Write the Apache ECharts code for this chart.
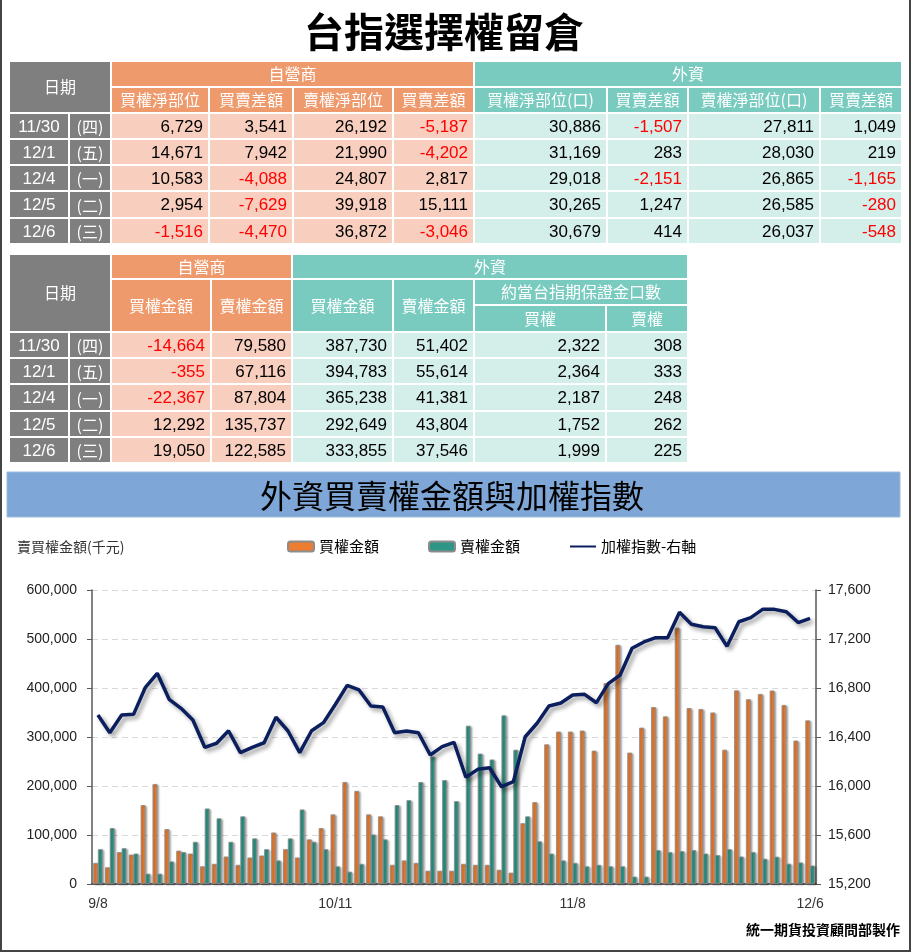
<!DOCTYPE html>
<html><head><meta charset="utf-8">
<script src="https://cdn.jsdelivr.net/npm/echarts@6/dist/echarts.min.js"></script>
<style>html,body{margin:0;padding:0;background:#fff}#c{width:912px;height:952px}</style>
</head><body><div id="c"></div>
<script>
// ---------- chart data ----------
const categories = ['9/8','9/11','9/12','9/13','9/14','9/15','9/18','9/19','9/20','9/21','9/22','9/25','9/26','9/27','9/28',
  '10/2','10/3','10/4','10/5','10/6','10/11','10/12','10/13','10/16','10/17','10/18','10/19','10/20','10/23','10/24','10/25','10/26','10/27','10/30','10/31',
  '11/1','11/2','11/3','11/6','11/7','11/8','11/9','11/10','11/13','11/14','11/15','11/16','11/17','11/20','11/21','11/22','11/23','11/24','11/27','11/28','11/29','11/30',
  '12/1','12/4','12/5','12/6'];
const buyAmount = [43000,34000,65000,60000,161000,204000,112000,68000,62000,36000,
  41000,56000,39000,54000,58000,105000,71000,54000,91000,114000,
  142000,208000,190000,142000,138000,39000,48000,43000,27000,27000,
  27000,41000,39000,39000,29000,23000,124000,167000,285000,311000,
  311000,313000,272000,410000,488000,268000,319000,361000,342000,523000,
  359000,357000,350000,274000,395000,377000,387730,394783,365238,292649,333855];
const sellAmount = [71000,114000,73000,62000,21000,21000,46000,65000,86000,154000,
  134000,86000,138000,93000,71000,48000,93000,152000,86000,71000,
  36000,25000,41000,101000,91000,161000,171000,208000,260000,212000,
  169000,323000,266000,254000,344000,274000,138000,87000,62000,48000,
  43000,36000,39000,36000,36000,15000,15000,69000,65000,67000,
  69000,62000,59000,71000,56000,65000,51402,55614,41381,43804,37546];
const taiex = [16580,16435,16580,16585,16806,16920,16708,16634,16539,16316,
  16349,16451,16272,16316,16353,16561,16451,16272,16451,16517,
  16665,16822,16784,16653,16645,16435,16449,16435,16253,16321,
  16357,16071,16136,16149,15994,16035,16402,16512,16653,16677,
  16743,16748,16680,16836,16906,17124,17176,17211,17211,17418,
  17320,17300,17292,17140,17341,17374,17442,17442,17423,17334,17369];

// ---------- table data ----------
const tblDates = ['11/30','12/1','12/4','12/5','12/6'];
const tblDays = ['(四)','(五)','(一)','(二)','(三)'];
const propBuyNet = [6729,14671,10583,2954,-1516];
const propBuyDiff = [3541,7942,-4088,-7629,-4470];
const propSellNet = [26192,21990,24807,39918,36872];
const propSellDiff = [-5187,-4202,2817,15111,-3046];
const forBuyNet = [30886,31169,29018,30265,30679];
const forBuyDiff = [-1507,283,-2151,1247,414];
const forSellNet = [27811,28030,26865,26585,26037];
const forSellDiff = [1049,219,-1165,-280,-548];
const propBuyAmt = [-14664,-355,-22367,12292,19050];
const propSellAmt = [79580,67116,87804,135737,122585];
const forBuyAmt = [387730,394783,365238,292649,333855];
const forSellAmt = [51402,55614,41381,43804,37546];
const eqFutBuy = [2322,2364,2187,1752,1999];
const eqFutSell = [308,333,248,262,225];
const head1 = ['買權淨部位','買賣差額','賣權淨部位','買賣差額','買權淨部位(口)','買賣差額','賣權淨部位(口)','買賣差額'];

// ---------- drawing helpers ----------
const CJK = '"Noto Sans CJK TC","Noto Sans CJK SC",sans-serif';
const NUM = '"Liberation Sans Narrow","Liberation Sans",Arial,sans-serif';
const COL = {gray:'#7F7F7F', orH:'#EE9A6D', orD:'#F8CEBE', tlH:'#79CBBF', tlD:'#D4EEEA'};
const G = [];
function rect(x0,y0,x1,y1,fill){
  G.push({type:'rect',silent:true,shape:{x:x0,y:y0,width:x1-x0,height:y1-y0},style:{fill:fill,stroke:'#fff',lineWidth:2}});
}
function txt(x,y,s,font,color,align){
  G.push({type:'text',silent:true,x:x,y:y,style:{text:s,font:font,fill:color||'#000',
    textAlign:align||'center',textVerticalAlign:'middle',align:align||'center',verticalAlign:'middle'}});
}
const fmt = v => v.toLocaleString('en-US');
function numCell(x0,y0,x1,y1,fill,v){
  rect(x0,y0,x1,y1,fill);
  txt(x1-6,(y0+y1)/2+1,fmt(v),'17px '+NUM, v<0?'#FF0000':'#000','right');
}
function dateCells(c0,c1,c2,y0,y1,j){
  rect(c0,y0,c1,y1,COL.gray); txt((c0+c1)/2,(y0+y1)/2+1,tblDates[j],'17px '+NUM,'#fff');
  rect(c1,y0,c2,y1,COL.gray); txt((c1+c2)/2,(y0+y1)/2+1,tblDays[j],'16px '+CJK,'#fff');
}

// main title
txt(444,32,'台指選擇權留倉','bold 40px '+CJK,'#000');

// table 1
const c1 = [9,69,111,209,293,393,474,607,688,820,902];
const r1 = [61,87,113,139,165,191,218,244];
rect(c1[0],r1[0],c1[2],r1[2],COL.gray); txt((c1[0]+c1[2])/2,(r1[0]+r1[2])/2,'日期','16px '+CJK,'#fff');
rect(c1[2],r1[0],c1[6],r1[1],COL.orH); txt((c1[2]+c1[6])/2,(r1[0]+r1[1])/2,'自營商','16px '+CJK,'#fff');
rect(c1[6],r1[0],c1[10],r1[1],COL.tlH); txt((c1[6]+c1[10])/2,(r1[0]+r1[1])/2,'外資','16px '+CJK,'#fff');
head1.forEach((h,i)=>{ rect(c1[2+i],r1[1],c1[3+i],r1[2],i<4?COL.orH:COL.tlH);
  txt((c1[2+i]+c1[3+i])/2,(r1[1]+r1[2])/2,h,'16px '+CJK,'#fff'); });
const t1Cols = [propBuyNet,propBuyDiff,propSellNet,propSellDiff,forBuyNet,forBuyDiff,forSellNet,forSellDiff];
for(let j=0;j<5;j++){
  const y0=r1[2+j], y1=r1[3+j];
  dateCells(c1[0],c1[1],c1[2],y0,y1,j);
  t1Cols.forEach((arr,i)=>numCell(c1[2+i],y0,c1[3+i],y1,i<4?COL.orD:COL.tlD,arr[j]));
}

// table 2
const c2 = [9,69,111,211,292,393,474,606,688];
const r2 = [254,279,305,332,358,384,411,437,463];
rect(c2[0],r2[0],c2[2],r2[3],COL.gray); txt((c2[0]+c2[2])/2,(r2[0]+r2[3])/2,'日期','16px '+CJK,'#fff');
rect(c2[2],r2[0],c2[4],r2[1],COL.orH); txt((c2[2]+c2[4])/2,(r2[0]+r2[1])/2,'自營商','16px '+CJK,'#fff');
rect(c2[4],r2[0],c2[8],r2[1],COL.tlH); txt((c2[4]+c2[8])/2,(r2[0]+r2[1])/2,'外資','16px '+CJK,'#fff');
[['買權金額',2,COL.orH],['賣權金額',3,COL.orH],['買權金額',4,COL.tlH],['賣權金額',5,COL.tlH]].forEach(a=>{
  rect(c2[a[1]],r2[1],c2[a[1]+1],r2[3],a[2]); txt((c2[a[1]]+c2[a[1]+1])/2,(r2[1]+r2[3])/2,a[0],'16px '+CJK,'#fff'); });
rect(c2[6],r2[1],c2[8],r2[2],COL.tlH); txt((c2[6]+c2[8])/2,(r2[1]+r2[2])/2,'約當台指期保證金口數','16px '+CJK,'#fff');
rect(c2[6],r2[2],c2[7],r2[3],COL.tlH); txt((c2[6]+c2[7])/2,(r2[2]+r2[3])/2,'買權','16px '+CJK,'#fff');
rect(c2[7],r2[2],c2[8],r2[3],COL.tlH); txt((c2[7]+c2[8])/2,(r2[2]+r2[3])/2,'賣權','16px '+CJK,'#fff');
const t2Cols = [propBuyAmt,propSellAmt,forBuyAmt,forSellAmt,eqFutBuy,eqFutSell];
for(let j=0;j<5;j++){
  const y0=r2[3+j], y1=r2[4+j];
  dateCells(c2[0],c2[1],c2[2],y0,y1,j);
  t2Cols.forEach((arr,i)=>numCell(c2[2+i],y0,c2[3+i],y1,i<2?COL.orD:COL.tlD,arr[j]));
}

// chart banner
G.push({type:'rect',silent:true,shape:{x:7,y:472,width:893,height:45},style:{fill:'#7EA6D6',stroke:'#9DBBE0',lineWidth:1}});
txt(452,496,'外資買賣權金額與加權指數','32px '+CJK,'#000');
txt(17,547,'賣買權金額(千元)','14px '+CJK,'#333','left');
txt(900,930,'統一期貨投資顧問部製作','bold 14px '+CJK,'#000','right');
// frame
G.push({type:'polyline',silent:true,shape:{points:[[1,0],[1,951],[910,951],[910,0]]},style:{fill:null,stroke:'#444',lineWidth:2}});

const chart = echarts.init(document.getElementById('c'),null,{renderer:'canvas'});
const shadowBar = {shadowColor:'rgba(0,0,0,0.35)',shadowBlur:2,shadowOffsetX:1.5,shadowOffsetY:1,borderColor:'#8C8C8C',borderWidth:0.8};
chart.setOption({
  animation:false,
  backgroundColor:'#fff',
  graphic:{elements:G},
  legend:{left:282,top:534,itemWidth:26,itemHeight:10,itemGap:49,
    textStyle:{fontSize:15,color:'#000',fontFamily:CJK},
    data:['買權金額','賣權金額',
      {name:'加權指數-右軸',itemStyle:{color:'rgba(0,0,0,0)',borderWidth:0,shadowBlur:0}}]},
  grid:{left:92,right:96,top:590,bottom:68,containLabel:false},
  xAxis:{type:'category',data:categories,boundaryGap:true,
    axisLine:{lineStyle:{color:'#404040',width:1.5}},axisTick:{show:false},
    axisLabel:{interval:19,fontSize:14,color:'#333',margin:13,fontFamily:'"Liberation Sans",Arial,sans-serif'}},
  yAxis:[
    {type:'value',min:0,max:600000,interval:100000,
     axisLine:{show:true,lineStyle:{color:'#595959',width:1.5}},
     axisTick:{show:true,length:5,lineStyle:{color:'#595959'}},
     axisLabel:{formatter:v=>fmt(v),fontSize:14,color:'#222',margin:15,fontFamily:'"Liberation Sans",Arial,sans-serif'},
     splitLine:{show:true,lineStyle:{color:'#D9D9D9',type:[6,4],width:1}}},
    {type:'value',position:'right',min:15200,max:17600,interval:400,
     axisLine:{show:true,lineStyle:{color:'#595959',width:1.5}},
     axisTick:{show:true,length:5,lineStyle:{color:'#595959'}},
     axisLabel:{formatter:v=>fmt(v),fontSize:14,color:'#222',margin:12,fontFamily:'"Liberation Sans",Arial,sans-serif'},
     splitLine:{show:false}}
  ],
  series:[
    {name:'買權金額',type:'bar',data:buyAmount,barGap:'0%',barCategoryGap:'20%',
     itemStyle:Object.assign({color:'#ED7D31'},shadowBar)},
    {name:'賣權金額',type:'bar',data:sellAmount,barGap:'0%',barCategoryGap:'20%',
     itemStyle:Object.assign({color:'#2E9686'},shadowBar)},
    {name:'加權指數-右軸',type:'line',yAxisIndex:1,data:taiex,symbol:'none',z:5,
     itemStyle:{color:'#0B1F5E'},
     lineStyle:{color:'#0B1F5E',width:3.5,shadowColor:'rgba(0,0,0,0.4)',shadowBlur:4,shadowOffsetX:3,shadowOffsetY:3}}
  ]
});
</script></body></html>
